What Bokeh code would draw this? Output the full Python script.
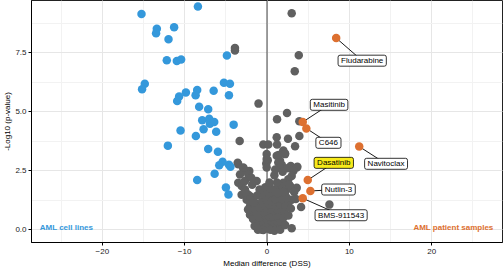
from bokeh.plotting import figure
from bokeh.models import Range1d, Span, Label, ColumnDataSource, NumeralTickFormatter, SingleIntervalTicker
from bokeh.embed import file_html
from bokeh.resources import INLINE

# ---- data ----
grey_x = [-3.89, -3.89, 3.00, 3.86, 3.37, -1.03, 2.43, 1.22, 3.93, 1.18, 2.55, 3.93, -3.32, -0.45, 0.16,
          1.22, 3.41, 1.98, 2.19, -0.04, 1.42, 0.09, 1.58, -3.56, -0.09, 1.79, 2.88, 3.69, -2.88, -2.15,
          -0.04, -0.04, 1.18, 1.37, 2.19, 1.58, -3.49, -2.88, -2.47, -2.27, -3.28, -3.49, -3.08, -2.68,
          -1.25, 3.61, 3.20, 3.00, 2.59, 1.98, 1.58, 3.61, 2.80, 2.40, 2.19, 0.97, 0.77, -2.68, -3.08,
          -2.27, -2.47, -1.86, -1.46, -2.07, -1.06, -0.64, -1.46, -2.07, -1.06, -0.45, -1.25, -0.64, -0.24,
          0.57, 0.97, 1.37, 1.58, 1.79, 1.98, 1.37, 0.77, 0.57, 0.36, 0.16, 0.77, 1.18, -0.45, 3.00, 3.00,
          2.59, 4.14, 7.58,
          -0.8, -0.3, 0.2, 0.6, 1.0, 1.4, -1.5, -1.0, -0.5, 0.1, 0.5, 0.9, 1.3, 1.7, -1.7, -0.9, -0.2, 0.3,
          0.8, 1.2, 2.0, -1.3, -0.4, 0.1, 0.4, 0.9, 1.3, 2.1, -1.8, -0.9, -0.2, 0.3, 1.1, 1.6, 2.3, -1.6,
          -0.6, 0.0, 0.5, 1.0, 1.8, 2.4, -2.0, -1.2, -0.5, 0.2, 1.3, 2.0, -0.9, -0.2, 0.4, 1.2, -1.8, 0.9,
          1.9, -1.9, 1.0, 2.5, 0.3, -2.3, 2.6, -0.1, 0.4, 0.9, -0.6, 1.6, 2.2, -1.1, 2.7, 3.3, -2.6, 3.5, 2.9]
grey_y = [7.70, 7.59, 9.17, 7.39, 6.71, 5.34, 4.94, 4.68, 4.59, 3.92, 3.85, 3.97, 3.76, 3.61, 3.61,
          3.61, 3.53, 3.35, 3.23, 3.20, 3.16, 2.94, 2.92, 2.83, 2.80, 2.75, 2.70, 2.66, 2.60, 2.49,
          2.99, 2.63, 3.13, 2.85, 3.20, 2.63, 2.77, 2.63, 2.49, 2.34, 2.34, 1.99, 1.85, 2.06,
          2.06, 2.63, 2.49, 2.27, 2.13, 1.99, 1.85, 1.77, 1.85, 1.70, 1.48, 1.70, 1.42, 1.70, 1.48,
          1.48, 1.27, 1.34, 1.13, 0.99, 0.99, 0.84, 0.77, 0.63, 0.56, 0.48, 0.34, 0.20, 0.27,
          0.27, 0.41, 0.48, 0.70, 0.91, 1.13, 1.13, 0.99, 0.70, 0.48, 0.06, 0.06, 0.20, -0.02, 0.06, 1.27,
          1.13, 0.96, 1.06,
          0.1, 0.05, 0.15, 0.1, 0.05, 0.15, 0.15, 0.25, 0.35, 0.4, 0.3, 0.25, 0.35, 0.3, 0.45, 0.5, 0.6, 0.55,
          0.55, 0.6, 0.5, 0.7, 0.75, 0.8, 0.85, 0.8, 0.85, 0.8, 0.9, 0.95, 1.0, 1.05, 1.0, 1.05, 1.0, 1.15,
          1.2, 1.25, 1.2, 1.3, 1.3, 1.35, 1.4, 1.45, 1.5, 1.55, 1.55, 1.6, 1.7, 1.8, 1.75, 2.0, 1.9, 2.3,
          2.45, 2.2, 2.55, 2.6, 2.0, 0.85, 0.6, 0.1, 0.0, -0.05, 0.0, 0.0, 0.2, 0.0, 1.9, 1.6, 1.6, 1.3, 0.9]

blue_x = [-8.39, -15.24, -13.38, -13.47, -11.28, -11.96, -12.17, -10.95, -10.43, -4.87, -14.84, -15.17,
          -5.23, -4.50, -6.48, -8.48, -8.67, -9.85, -10.67, -10.91, -4.62, -8.24, -7.14, -7.87, -7.02,
          -6.93, -6.41, -6.17, -4.05, -10.50, -7.70, -8.64, -12.04, -7.14, -5.96, -5.39, -5.80, -4.62,
          -4.44, -6.36, -8.48, -4.99, -4.68]
blue_y = [9.46, 9.14, 8.51, 8.32, 8.58, 8.07, 7.18, 7.15, 7.21, 7.38, 6.18, 5.95,
          6.22, 6.18, 5.89, 5.92, 5.69, 5.81, 5.64, 5.45, 5.69, 5.21, 5.10, 4.64, 4.70,
          4.49, 4.56, 4.15, 4.45, 4.20, 4.25, 3.97, 3.56, 3.42, 3.30, 2.88, 2.73, 2.75,
          2.67, 2.37, 2.10, 1.79, 1.49]

drugs = ["Fludarabine", "Masitinib", "C646", "Navitoclax", "Dasatinib", "Nutlin-3", "BMS-911543"]
drug_x = [8.40, 4.34, 4.78, 11.20, 4.95, 5.27, 4.34]
drug_y = [8.12, 4.56, 4.29, 3.52, 2.10, 1.64, 1.33]
label_x = [11.56, 7.54, 7.46, 14.46, 8.11, 8.68, 9.00]
label_y = [7.16, 5.29, 3.68, 2.79, 2.83, 1.70, 0.61]
label_fill = ["white", "white", "white", "white", "#F7EA1B", "white", "white"]

BLUE = "#3498DB"
ORANGE = "#DD7030"
GREY = "#606060"
FONT = "Liberation Sans"

p = figure(width=504, height=270, output_backend="svg", toolbar_location=None,
           x_range=Range1d(-28.6, 28.6), y_range=Range1d(-0.545, 9.71),
           min_border_left=0, min_border_right=2, min_border_top=0, min_border_bottom=0)

p.background_fill_color = "white"
p.border_fill_color = "white"
p.outline_line_color = "#222222"
p.outline_line_width = 1

p.xaxis.ticker = SingleIntervalTicker(interval=10, num_minor_ticks=2)
p.yaxis.ticker = SingleIntervalTicker(interval=2.5, num_minor_ticks=2)
p.yaxis.formatter = NumeralTickFormatter(format="0.0")

for ax in (p.xaxis, p.yaxis):
    ax.axis_line_color = "black"
    ax.axis_line_width = 1
    ax.major_tick_line_color = "black"
    ax.major_tick_in = 0
    ax.major_tick_out = 3
    ax.minor_tick_line_color = None
    ax.major_label_text_font = FONT
    ax.major_label_text_font_size = "8px"
    ax.major_label_text_color = "#222222"
    ax.axis_label_text_font = FONT
    ax.axis_label_text_font_size = "8px"
    ax.axis_label_text_font_style = "normal"
    ax.axis_label_text_color = "black"

p.xaxis.major_label_standoff = 2
p.yaxis.major_label_standoff = 1
p.xaxis.axis_label = "Median difference (DSS)"
p.yaxis.axis_label = "-Log10 (p-value)"
p.xaxis.axis_label_standoff = 2
p.yaxis.axis_label_standoff = 0

p.grid.grid_line_color = "#E6E6E6"
p.grid.grid_line_width = 1
p.grid.minor_grid_line_color = "#F2F2F2"
p.grid.minor_grid_line_width = 1

p.add_layout(Span(location=0, dimension="height", line_color="#444444", line_width=1, level="underlay"))

p.scatter(grey_x, grey_y, size=8.5, fill_color=GREY, line_color=None)
p.scatter(blue_x, blue_y, size=8.5, fill_color=BLUE, line_color=None)

src = ColumnDataSource(dict(x=drug_x, y=drug_y, lx=label_x, ly=label_y))
p.segment(x0="x", y0="y", x1="lx", y1="ly", source=src, line_color="black", line_width=0.9)
p.scatter("x", "y", source=src, size=8.5, fill_color=ORANGE, line_color=None)

for name, lx, ly, fc in zip(drugs, label_x, label_y, label_fill):
    p.add_layout(Label(x=lx, y=ly, text=name, text_align="center", text_baseline="middle",
                       text_font=FONT, text_font_size="8px", text_color="black",
                       background_fill_color=fc, border_line_color="black", border_line_width=0.8,
                       padding=(3, 1), border_radius=2))

p.add_layout(Label(x=-27.6, y=0.1, text="AML cell lines", text_align="left", text_baseline="middle",
                   text_font=FONT, text_font_size="8px", text_font_style="bold", text_color=BLUE))
p.add_layout(Label(x=27.5, y=0.1, text="AML patient samples", text_align="right", text_baseline="middle",
                   text_font=FONT, text_font_size="8px", text_font_style="bold", text_color=ORANGE))

open("out.html", "w").write(file_html(p, INLINE))
